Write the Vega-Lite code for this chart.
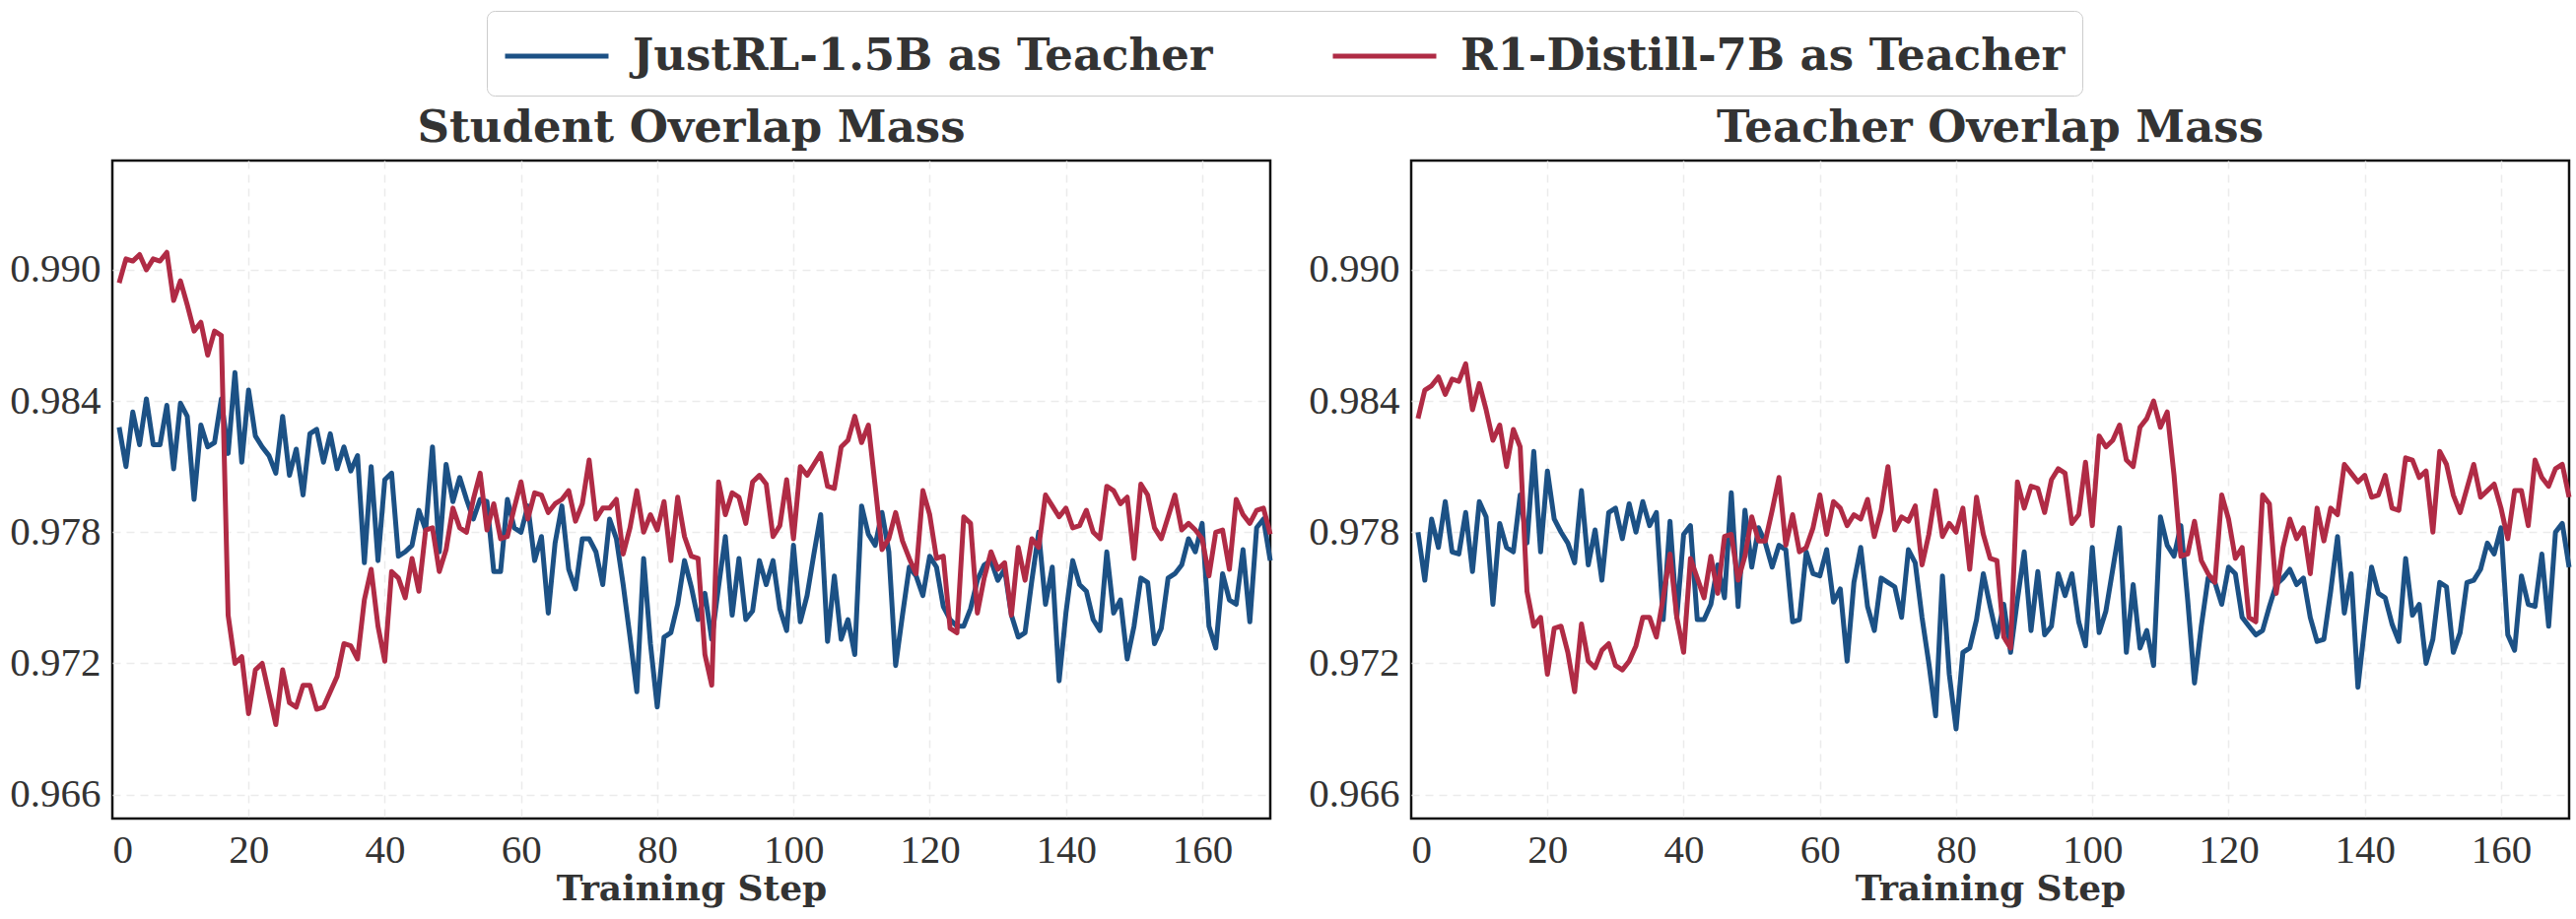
{
  "$schema": "https://vega.github.io/schema/vega-lite/v6.json",
  "padding": {"left": 8, "top": 10, "right": 0, "bottom": 0},
  "background": "white",
  "datasets": {
    "student": [
      {"series": "JustRL-1.5B", "step": 1, "value": 0.9828},
      {"series": "JustRL-1.5B", "step": 2, "value": 0.9810},
      {"series": "JustRL-1.5B", "step": 3, "value": 0.9835},
      {"series": "JustRL-1.5B", "step": 4, "value": 0.9820},
      {"series": "JustRL-1.5B", "step": 5, "value": 0.9841},
      {"series": "JustRL-1.5B", "step": 6, "value": 0.9820},
      {"series": "JustRL-1.5B", "step": 7, "value": 0.9820},
      {"series": "JustRL-1.5B", "step": 8, "value": 0.9838},
      {"series": "JustRL-1.5B", "step": 9, "value": 0.9809},
      {"series": "JustRL-1.5B", "step": 10, "value": 0.9839},
      {"series": "JustRL-1.5B", "step": 11, "value": 0.9833},
      {"series": "JustRL-1.5B", "step": 12, "value": 0.9795},
      {"series": "JustRL-1.5B", "step": 13, "value": 0.9829},
      {"series": "JustRL-1.5B", "step": 14, "value": 0.9819},
      {"series": "JustRL-1.5B", "step": 15, "value": 0.9821},
      {"series": "JustRL-1.5B", "step": 16, "value": 0.9841},
      {"series": "JustRL-1.5B", "step": 17, "value": 0.9816},
      {"series": "JustRL-1.5B", "step": 18, "value": 0.9853},
      {"series": "JustRL-1.5B", "step": 19, "value": 0.9812},
      {"series": "JustRL-1.5B", "step": 20, "value": 0.9845},
      {"series": "JustRL-1.5B", "step": 21, "value": 0.9824},
      {"series": "JustRL-1.5B", "step": 22, "value": 0.9819},
      {"series": "JustRL-1.5B", "step": 23, "value": 0.9815},
      {"series": "JustRL-1.5B", "step": 24, "value": 0.9807},
      {"series": "JustRL-1.5B", "step": 25, "value": 0.9833},
      {"series": "JustRL-1.5B", "step": 26, "value": 0.9806},
      {"series": "JustRL-1.5B", "step": 27, "value": 0.9818},
      {"series": "JustRL-1.5B", "step": 28, "value": 0.9797},
      {"series": "JustRL-1.5B", "step": 29, "value": 0.9825},
      {"series": "JustRL-1.5B", "step": 30, "value": 0.9827},
      {"series": "JustRL-1.5B", "step": 31, "value": 0.9812},
      {"series": "JustRL-1.5B", "step": 32, "value": 0.9825},
      {"series": "JustRL-1.5B", "step": 33, "value": 0.9809},
      {"series": "JustRL-1.5B", "step": 34, "value": 0.9819},
      {"series": "JustRL-1.5B", "step": 35, "value": 0.9808},
      {"series": "JustRL-1.5B", "step": 36, "value": 0.9815},
      {"series": "JustRL-1.5B", "step": 37, "value": 0.9766},
      {"series": "JustRL-1.5B", "step": 38, "value": 0.9810},
      {"series": "JustRL-1.5B", "step": 39, "value": 0.9767},
      {"series": "JustRL-1.5B", "step": 40, "value": 0.9804},
      {"series": "JustRL-1.5B", "step": 41, "value": 0.9807},
      {"series": "JustRL-1.5B", "step": 42, "value": 0.9769},
      {"series": "JustRL-1.5B", "step": 43, "value": 0.9771},
      {"series": "JustRL-1.5B", "step": 44, "value": 0.9774},
      {"series": "JustRL-1.5B", "step": 45, "value": 0.9790},
      {"series": "JustRL-1.5B", "step": 46, "value": 0.9781},
      {"series": "JustRL-1.5B", "step": 47, "value": 0.9819},
      {"series": "JustRL-1.5B", "step": 48, "value": 0.9771},
      {"series": "JustRL-1.5B", "step": 49, "value": 0.9811},
      {"series": "JustRL-1.5B", "step": 50, "value": 0.9794},
      {"series": "JustRL-1.5B", "step": 51, "value": 0.9805},
      {"series": "JustRL-1.5B", "step": 52, "value": 0.9795},
      {"series": "JustRL-1.5B", "step": 53, "value": 0.9786},
      {"series": "JustRL-1.5B", "step": 54, "value": 0.9795},
      {"series": "JustRL-1.5B", "step": 55, "value": 0.9794},
      {"series": "JustRL-1.5B", "step": 56, "value": 0.9762},
      {"series": "JustRL-1.5B", "step": 57, "value": 0.9762},
      {"series": "JustRL-1.5B", "step": 58, "value": 0.9795},
      {"series": "JustRL-1.5B", "step": 59, "value": 0.9782},
      {"series": "JustRL-1.5B", "step": 60, "value": 0.9780},
      {"series": "JustRL-1.5B", "step": 61, "value": 0.9792},
      {"series": "JustRL-1.5B", "step": 62, "value": 0.9767},
      {"series": "JustRL-1.5B", "step": 63, "value": 0.9778},
      {"series": "JustRL-1.5B", "step": 64, "value": 0.9743},
      {"series": "JustRL-1.5B", "step": 65, "value": 0.9775},
      {"series": "JustRL-1.5B", "step": 66, "value": 0.9792},
      {"series": "JustRL-1.5B", "step": 67, "value": 0.9763},
      {"series": "JustRL-1.5B", "step": 68, "value": 0.9754},
      {"series": "JustRL-1.5B", "step": 69, "value": 0.9777},
      {"series": "JustRL-1.5B", "step": 70, "value": 0.9777},
      {"series": "JustRL-1.5B", "step": 71, "value": 0.9771},
      {"series": "JustRL-1.5B", "step": 72, "value": 0.9756},
      {"series": "JustRL-1.5B", "step": 73, "value": 0.9786},
      {"series": "JustRL-1.5B", "step": 74, "value": 0.9777},
      {"series": "JustRL-1.5B", "step": 75, "value": 0.9756},
      {"series": "JustRL-1.5B", "step": 76, "value": 0.9732},
      {"series": "JustRL-1.5B", "step": 77, "value": 0.9707},
      {"series": "JustRL-1.5B", "step": 78, "value": 0.9768},
      {"series": "JustRL-1.5B", "step": 79, "value": 0.9729},
      {"series": "JustRL-1.5B", "step": 80, "value": 0.9700},
      {"series": "JustRL-1.5B", "step": 81, "value": 0.9732},
      {"series": "JustRL-1.5B", "step": 82, "value": 0.9734},
      {"series": "JustRL-1.5B", "step": 83, "value": 0.9747},
      {"series": "JustRL-1.5B", "step": 84, "value": 0.9767},
      {"series": "JustRL-1.5B", "step": 85, "value": 0.9755},
      {"series": "JustRL-1.5B", "step": 86, "value": 0.9740},
      {"series": "JustRL-1.5B", "step": 87, "value": 0.9752},
      {"series": "JustRL-1.5B", "step": 88, "value": 0.9731},
      {"series": "JustRL-1.5B", "step": 89, "value": 0.9755},
      {"series": "JustRL-1.5B", "step": 90, "value": 0.9778},
      {"series": "JustRL-1.5B", "step": 91, "value": 0.9742},
      {"series": "JustRL-1.5B", "step": 92, "value": 0.9768},
      {"series": "JustRL-1.5B", "step": 93, "value": 0.9740},
      {"series": "JustRL-1.5B", "step": 94, "value": 0.9744},
      {"series": "JustRL-1.5B", "step": 95, "value": 0.9767},
      {"series": "JustRL-1.5B", "step": 96, "value": 0.9756},
      {"series": "JustRL-1.5B", "step": 97, "value": 0.9767},
      {"series": "JustRL-1.5B", "step": 98, "value": 0.9745},
      {"series": "JustRL-1.5B", "step": 99, "value": 0.9735},
      {"series": "JustRL-1.5B", "step": 100, "value": 0.9774},
      {"series": "JustRL-1.5B", "step": 101, "value": 0.9739},
      {"series": "JustRL-1.5B", "step": 102, "value": 0.9751},
      {"series": "JustRL-1.5B", "step": 103, "value": 0.9770},
      {"series": "JustRL-1.5B", "step": 104, "value": 0.9788},
      {"series": "JustRL-1.5B", "step": 105, "value": 0.9730},
      {"series": "JustRL-1.5B", "step": 106, "value": 0.9760},
      {"series": "JustRL-1.5B", "step": 107, "value": 0.9731},
      {"series": "JustRL-1.5B", "step": 108, "value": 0.9740},
      {"series": "JustRL-1.5B", "step": 109, "value": 0.9724},
      {"series": "JustRL-1.5B", "step": 110, "value": 0.9792},
      {"series": "JustRL-1.5B", "step": 111, "value": 0.9779},
      {"series": "JustRL-1.5B", "step": 112, "value": 0.9774},
      {"series": "JustRL-1.5B", "step": 113, "value": 0.9789},
      {"series": "JustRL-1.5B", "step": 114, "value": 0.9771},
      {"series": "JustRL-1.5B", "step": 115, "value": 0.9719},
      {"series": "JustRL-1.5B", "step": 116, "value": 0.9742},
      {"series": "JustRL-1.5B", "step": 117, "value": 0.9764},
      {"series": "JustRL-1.5B", "step": 118, "value": 0.9760},
      {"series": "JustRL-1.5B", "step": 119, "value": 0.9751},
      {"series": "JustRL-1.5B", "step": 120, "value": 0.9769},
      {"series": "JustRL-1.5B", "step": 121, "value": 0.9764},
      {"series": "JustRL-1.5B", "step": 122, "value": 0.9746},
      {"series": "JustRL-1.5B", "step": 123, "value": 0.9740},
      {"series": "JustRL-1.5B", "step": 124, "value": 0.9737},
      {"series": "JustRL-1.5B", "step": 125, "value": 0.9737},
      {"series": "JustRL-1.5B", "step": 126, "value": 0.9745},
      {"series": "JustRL-1.5B", "step": 127, "value": 0.9758},
      {"series": "JustRL-1.5B", "step": 128, "value": 0.9765},
      {"series": "JustRL-1.5B", "step": 129, "value": 0.9767},
      {"series": "JustRL-1.5B", "step": 130, "value": 0.9758},
      {"series": "JustRL-1.5B", "step": 131, "value": 0.9763},
      {"series": "JustRL-1.5B", "step": 132, "value": 0.9742},
      {"series": "JustRL-1.5B", "step": 133, "value": 0.9732},
      {"series": "JustRL-1.5B", "step": 134, "value": 0.9734},
      {"series": "JustRL-1.5B", "step": 135, "value": 0.9758},
      {"series": "JustRL-1.5B", "step": 136, "value": 0.9780},
      {"series": "JustRL-1.5B", "step": 137, "value": 0.9747},
      {"series": "JustRL-1.5B", "step": 138, "value": 0.9764},
      {"series": "JustRL-1.5B", "step": 139, "value": 0.9712},
      {"series": "JustRL-1.5B", "step": 140, "value": 0.9743},
      {"series": "JustRL-1.5B", "step": 141, "value": 0.9767},
      {"series": "JustRL-1.5B", "step": 142, "value": 0.9756},
      {"series": "JustRL-1.5B", "step": 143, "value": 0.9753},
      {"series": "JustRL-1.5B", "step": 144, "value": 0.9740},
      {"series": "JustRL-1.5B", "step": 145, "value": 0.9735},
      {"series": "JustRL-1.5B", "step": 146, "value": 0.9771},
      {"series": "JustRL-1.5B", "step": 147, "value": 0.9743},
      {"series": "JustRL-1.5B", "step": 148, "value": 0.9749},
      {"series": "JustRL-1.5B", "step": 149, "value": 0.9722},
      {"series": "JustRL-1.5B", "step": 150, "value": 0.9737},
      {"series": "JustRL-1.5B", "step": 151, "value": 0.9759},
      {"series": "JustRL-1.5B", "step": 152, "value": 0.9757},
      {"series": "JustRL-1.5B", "step": 153, "value": 0.9729},
      {"series": "JustRL-1.5B", "step": 154, "value": 0.9736},
      {"series": "JustRL-1.5B", "step": 155, "value": 0.9759},
      {"series": "JustRL-1.5B", "step": 156, "value": 0.9761},
      {"series": "JustRL-1.5B", "step": 157, "value": 0.9765},
      {"series": "JustRL-1.5B", "step": 158, "value": 0.9777},
      {"series": "JustRL-1.5B", "step": 159, "value": 0.9771},
      {"series": "JustRL-1.5B", "step": 160, "value": 0.9784},
      {"series": "JustRL-1.5B", "step": 161, "value": 0.9737},
      {"series": "JustRL-1.5B", "step": 162, "value": 0.9727},
      {"series": "JustRL-1.5B", "step": 163, "value": 0.9761},
      {"series": "JustRL-1.5B", "step": 164, "value": 0.9749},
      {"series": "JustRL-1.5B", "step": 165, "value": 0.9747},
      {"series": "JustRL-1.5B", "step": 166, "value": 0.9772},
      {"series": "JustRL-1.5B", "step": 167, "value": 0.9739},
      {"series": "JustRL-1.5B", "step": 168, "value": 0.9782},
      {"series": "JustRL-1.5B", "step": 169, "value": 0.9786},
      {"series": "JustRL-1.5B", "step": 170, "value": 0.9767},
      {"series": "R1-Distill-7B", "step": 1, "value": 0.9894},
      {"series": "R1-Distill-7B", "step": 2, "value": 0.9905},
      {"series": "R1-Distill-7B", "step": 3, "value": 0.9904},
      {"series": "R1-Distill-7B", "step": 4, "value": 0.9907},
      {"series": "R1-Distill-7B", "step": 5, "value": 0.9900},
      {"series": "R1-Distill-7B", "step": 6, "value": 0.9905},
      {"series": "R1-Distill-7B", "step": 7, "value": 0.9904},
      {"series": "R1-Distill-7B", "step": 8, "value": 0.9908},
      {"series": "R1-Distill-7B", "step": 9, "value": 0.9886},
      {"series": "R1-Distill-7B", "step": 10, "value": 0.9895},
      {"series": "R1-Distill-7B", "step": 11, "value": 0.9884},
      {"series": "R1-Distill-7B", "step": 12, "value": 0.9872},
      {"series": "R1-Distill-7B", "step": 13, "value": 0.9876},
      {"series": "R1-Distill-7B", "step": 14, "value": 0.9861},
      {"series": "R1-Distill-7B", "step": 15, "value": 0.9872},
      {"series": "R1-Distill-7B", "step": 16, "value": 0.9870},
      {"series": "R1-Distill-7B", "step": 17, "value": 0.9742},
      {"series": "R1-Distill-7B", "step": 18, "value": 0.9720},
      {"series": "R1-Distill-7B", "step": 19, "value": 0.9723},
      {"series": "R1-Distill-7B", "step": 20, "value": 0.9697},
      {"series": "R1-Distill-7B", "step": 21, "value": 0.9717},
      {"series": "R1-Distill-7B", "step": 22, "value": 0.9720},
      {"series": "R1-Distill-7B", "step": 23, "value": 0.9706},
      {"series": "R1-Distill-7B", "step": 24, "value": 0.9692},
      {"series": "R1-Distill-7B", "step": 25, "value": 0.9717},
      {"series": "R1-Distill-7B", "step": 26, "value": 0.9702},
      {"series": "R1-Distill-7B", "step": 27, "value": 0.9700},
      {"series": "R1-Distill-7B", "step": 28, "value": 0.9710},
      {"series": "R1-Distill-7B", "step": 29, "value": 0.9710},
      {"series": "R1-Distill-7B", "step": 30, "value": 0.9699},
      {"series": "R1-Distill-7B", "step": 31, "value": 0.9700},
      {"series": "R1-Distill-7B", "step": 32, "value": 0.9707},
      {"series": "R1-Distill-7B", "step": 33, "value": 0.9714},
      {"series": "R1-Distill-7B", "step": 34, "value": 0.9729},
      {"series": "R1-Distill-7B", "step": 35, "value": 0.9728},
      {"series": "R1-Distill-7B", "step": 36, "value": 0.9722},
      {"series": "R1-Distill-7B", "step": 37, "value": 0.9749},
      {"series": "R1-Distill-7B", "step": 38, "value": 0.9763},
      {"series": "R1-Distill-7B", "step": 39, "value": 0.9737},
      {"series": "R1-Distill-7B", "step": 40, "value": 0.9721},
      {"series": "R1-Distill-7B", "step": 41, "value": 0.9762},
      {"series": "R1-Distill-7B", "step": 42, "value": 0.9759},
      {"series": "R1-Distill-7B", "step": 43, "value": 0.9750},
      {"series": "R1-Distill-7B", "step": 44, "value": 0.9768},
      {"series": "R1-Distill-7B", "step": 45, "value": 0.9753},
      {"series": "R1-Distill-7B", "step": 46, "value": 0.9781},
      {"series": "R1-Distill-7B", "step": 47, "value": 0.9782},
      {"series": "R1-Distill-7B", "step": 48, "value": 0.9762},
      {"series": "R1-Distill-7B", "step": 49, "value": 0.9772},
      {"series": "R1-Distill-7B", "step": 50, "value": 0.9791},
      {"series": "R1-Distill-7B", "step": 51, "value": 0.9782},
      {"series": "R1-Distill-7B", "step": 52, "value": 0.9780},
      {"series": "R1-Distill-7B", "step": 53, "value": 0.9795},
      {"series": "R1-Distill-7B", "step": 54, "value": 0.9807},
      {"series": "R1-Distill-7B", "step": 55, "value": 0.9781},
      {"series": "R1-Distill-7B", "step": 56, "value": 0.9793},
      {"series": "R1-Distill-7B", "step": 57, "value": 0.9777},
      {"series": "R1-Distill-7B", "step": 58, "value": 0.9778},
      {"series": "R1-Distill-7B", "step": 59, "value": 0.9791},
      {"series": "R1-Distill-7B", "step": 60, "value": 0.9803},
      {"series": "R1-Distill-7B", "step": 61, "value": 0.9786},
      {"series": "R1-Distill-7B", "step": 62, "value": 0.9798},
      {"series": "R1-Distill-7B", "step": 63, "value": 0.9797},
      {"series": "R1-Distill-7B", "step": 64, "value": 0.9789},
      {"series": "R1-Distill-7B", "step": 65, "value": 0.9793},
      {"series": "R1-Distill-7B", "step": 66, "value": 0.9795},
      {"series": "R1-Distill-7B", "step": 67, "value": 0.9799},
      {"series": "R1-Distill-7B", "step": 68, "value": 0.9785},
      {"series": "R1-Distill-7B", "step": 69, "value": 0.9793},
      {"series": "R1-Distill-7B", "step": 70, "value": 0.9813},
      {"series": "R1-Distill-7B", "step": 71, "value": 0.9786},
      {"series": "R1-Distill-7B", "step": 72, "value": 0.9791},
      {"series": "R1-Distill-7B", "step": 73, "value": 0.9791},
      {"series": "R1-Distill-7B", "step": 74, "value": 0.9795},
      {"series": "R1-Distill-7B", "step": 75, "value": 0.9770},
      {"series": "R1-Distill-7B", "step": 76, "value": 0.9782},
      {"series": "R1-Distill-7B", "step": 77, "value": 0.9799},
      {"series": "R1-Distill-7B", "step": 78, "value": 0.9780},
      {"series": "R1-Distill-7B", "step": 79, "value": 0.9788},
      {"series": "R1-Distill-7B", "step": 80, "value": 0.9781},
      {"series": "R1-Distill-7B", "step": 81, "value": 0.9794},
      {"series": "R1-Distill-7B", "step": 82, "value": 0.9767},
      {"series": "R1-Distill-7B", "step": 83, "value": 0.9796},
      {"series": "R1-Distill-7B", "step": 84, "value": 0.9778},
      {"series": "R1-Distill-7B", "step": 85, "value": 0.9769},
      {"series": "R1-Distill-7B", "step": 86, "value": 0.9768},
      {"series": "R1-Distill-7B", "step": 87, "value": 0.9724},
      {"series": "R1-Distill-7B", "step": 88, "value": 0.9710},
      {"series": "R1-Distill-7B", "step": 89, "value": 0.9803},
      {"series": "R1-Distill-7B", "step": 90, "value": 0.9788},
      {"series": "R1-Distill-7B", "step": 91, "value": 0.9798},
      {"series": "R1-Distill-7B", "step": 92, "value": 0.9796},
      {"series": "R1-Distill-7B", "step": 93, "value": 0.9784},
      {"series": "R1-Distill-7B", "step": 94, "value": 0.9803},
      {"series": "R1-Distill-7B", "step": 95, "value": 0.9806},
      {"series": "R1-Distill-7B", "step": 96, "value": 0.9802},
      {"series": "R1-Distill-7B", "step": 97, "value": 0.9778},
      {"series": "R1-Distill-7B", "step": 98, "value": 0.9783},
      {"series": "R1-Distill-7B", "step": 99, "value": 0.9804},
      {"series": "R1-Distill-7B", "step": 100, "value": 0.9777},
      {"series": "R1-Distill-7B", "step": 101, "value": 0.9810},
      {"series": "R1-Distill-7B", "step": 102, "value": 0.9806},
      {"series": "R1-Distill-7B", "step": 103, "value": 0.9811},
      {"series": "R1-Distill-7B", "step": 104, "value": 0.9816},
      {"series": "R1-Distill-7B", "step": 105, "value": 0.9801},
      {"series": "R1-Distill-7B", "step": 106, "value": 0.9800},
      {"series": "R1-Distill-7B", "step": 107, "value": 0.9819},
      {"series": "R1-Distill-7B", "step": 108, "value": 0.9822},
      {"series": "R1-Distill-7B", "step": 109, "value": 0.9833},
      {"series": "R1-Distill-7B", "step": 110, "value": 0.9821},
      {"series": "R1-Distill-7B", "step": 111, "value": 0.9829},
      {"series": "R1-Distill-7B", "step": 112, "value": 0.9801},
      {"series": "R1-Distill-7B", "step": 113, "value": 0.9772},
      {"series": "R1-Distill-7B", "step": 114, "value": 0.9777},
      {"series": "R1-Distill-7B", "step": 115, "value": 0.9789},
      {"series": "R1-Distill-7B", "step": 116, "value": 0.9776},
      {"series": "R1-Distill-7B", "step": 117, "value": 0.9768},
      {"series": "R1-Distill-7B", "step": 118, "value": 0.9761},
      {"series": "R1-Distill-7B", "step": 119, "value": 0.9799},
      {"series": "R1-Distill-7B", "step": 120, "value": 0.9788},
      {"series": "R1-Distill-7B", "step": 121, "value": 0.9768},
      {"series": "R1-Distill-7B", "step": 122, "value": 0.9769},
      {"series": "R1-Distill-7B", "step": 123, "value": 0.9736},
      {"series": "R1-Distill-7B", "step": 124, "value": 0.9734},
      {"series": "R1-Distill-7B", "step": 125, "value": 0.9787},
      {"series": "R1-Distill-7B", "step": 126, "value": 0.9784},
      {"series": "R1-Distill-7B", "step": 127, "value": 0.9743},
      {"series": "R1-Distill-7B", "step": 128, "value": 0.9759},
      {"series": "R1-Distill-7B", "step": 129, "value": 0.9771},
      {"series": "R1-Distill-7B", "step": 130, "value": 0.9763},
      {"series": "R1-Distill-7B", "step": 131, "value": 0.9766},
      {"series": "R1-Distill-7B", "step": 132, "value": 0.9742},
      {"series": "R1-Distill-7B", "step": 133, "value": 0.9773},
      {"series": "R1-Distill-7B", "step": 134, "value": 0.9758},
      {"series": "R1-Distill-7B", "step": 135, "value": 0.9777},
      {"series": "R1-Distill-7B", "step": 136, "value": 0.9773},
      {"series": "R1-Distill-7B", "step": 137, "value": 0.9797},
      {"series": "R1-Distill-7B", "step": 138, "value": 0.9792},
      {"series": "R1-Distill-7B", "step": 139, "value": 0.9787},
      {"series": "R1-Distill-7B", "step": 140, "value": 0.9791},
      {"series": "R1-Distill-7B", "step": 141, "value": 0.9782},
      {"series": "R1-Distill-7B", "step": 142, "value": 0.9783},
      {"series": "R1-Distill-7B", "step": 143, "value": 0.9790},
      {"series": "R1-Distill-7B", "step": 144, "value": 0.9780},
      {"series": "R1-Distill-7B", "step": 145, "value": 0.9777},
      {"series": "R1-Distill-7B", "step": 146, "value": 0.9801},
      {"series": "R1-Distill-7B", "step": 147, "value": 0.9799},
      {"series": "R1-Distill-7B", "step": 148, "value": 0.9793},
      {"series": "R1-Distill-7B", "step": 149, "value": 0.9796},
      {"series": "R1-Distill-7B", "step": 150, "value": 0.9768},
      {"series": "R1-Distill-7B", "step": 151, "value": 0.9802},
      {"series": "R1-Distill-7B", "step": 152, "value": 0.9797},
      {"series": "R1-Distill-7B", "step": 153, "value": 0.9782},
      {"series": "R1-Distill-7B", "step": 154, "value": 0.9777},
      {"series": "R1-Distill-7B", "step": 155, "value": 0.9787},
      {"series": "R1-Distill-7B", "step": 156, "value": 0.9797},
      {"series": "R1-Distill-7B", "step": 157, "value": 0.9781},
      {"series": "R1-Distill-7B", "step": 158, "value": 0.9784},
      {"series": "R1-Distill-7B", "step": 159, "value": 0.9781},
      {"series": "R1-Distill-7B", "step": 160, "value": 0.9777},
      {"series": "R1-Distill-7B", "step": 161, "value": 0.9760},
      {"series": "R1-Distill-7B", "step": 162, "value": 0.9780},
      {"series": "R1-Distill-7B", "step": 163, "value": 0.9781},
      {"series": "R1-Distill-7B", "step": 164, "value": 0.9763},
      {"series": "R1-Distill-7B", "step": 165, "value": 0.9795},
      {"series": "R1-Distill-7B", "step": 166, "value": 0.9788},
      {"series": "R1-Distill-7B", "step": 167, "value": 0.9784},
      {"series": "R1-Distill-7B", "step": 168, "value": 0.9790},
      {"series": "R1-Distill-7B", "step": 169, "value": 0.9791},
      {"series": "R1-Distill-7B", "step": 170, "value": 0.9779}
    ],
    "teacher": [
      {"series": "JustRL-1.5B", "step": 1, "value": 0.9780},
      {"series": "JustRL-1.5B", "step": 2, "value": 0.9758},
      {"series": "JustRL-1.5B", "step": 3, "value": 0.9786},
      {"series": "JustRL-1.5B", "step": 4, "value": 0.9773},
      {"series": "JustRL-1.5B", "step": 5, "value": 0.9794},
      {"series": "JustRL-1.5B", "step": 6, "value": 0.9771},
      {"series": "JustRL-1.5B", "step": 7, "value": 0.9770},
      {"series": "JustRL-1.5B", "step": 8, "value": 0.9789},
      {"series": "JustRL-1.5B", "step": 9, "value": 0.9762},
      {"series": "JustRL-1.5B", "step": 10, "value": 0.9794},
      {"series": "JustRL-1.5B", "step": 11, "value": 0.9787},
      {"series": "JustRL-1.5B", "step": 12, "value": 0.9747},
      {"series": "JustRL-1.5B", "step": 13, "value": 0.9784},
      {"series": "JustRL-1.5B", "step": 14, "value": 0.9773},
      {"series": "JustRL-1.5B", "step": 15, "value": 0.9771},
      {"series": "JustRL-1.5B", "step": 16, "value": 0.9797},
      {"series": "JustRL-1.5B", "step": 17, "value": 0.9775},
      {"series": "JustRL-1.5B", "step": 18, "value": 0.9817},
      {"series": "JustRL-1.5B", "step": 19, "value": 0.9771},
      {"series": "JustRL-1.5B", "step": 20, "value": 0.9808},
      {"series": "JustRL-1.5B", "step": 21, "value": 0.9786},
      {"series": "JustRL-1.5B", "step": 22, "value": 0.9780},
      {"series": "JustRL-1.5B", "step": 23, "value": 0.9775},
      {"series": "JustRL-1.5B", "step": 24, "value": 0.9766},
      {"series": "JustRL-1.5B", "step": 25, "value": 0.9799},
      {"series": "JustRL-1.5B", "step": 26, "value": 0.9765},
      {"series": "JustRL-1.5B", "step": 27, "value": 0.9781},
      {"series": "JustRL-1.5B", "step": 28, "value": 0.9758},
      {"series": "JustRL-1.5B", "step": 29, "value": 0.9789},
      {"series": "JustRL-1.5B", "step": 30, "value": 0.9791},
      {"series": "JustRL-1.5B", "step": 31, "value": 0.9777},
      {"series": "JustRL-1.5B", "step": 32, "value": 0.9793},
      {"series": "JustRL-1.5B", "step": 33, "value": 0.9780},
      {"series": "JustRL-1.5B", "step": 34, "value": 0.9794},
      {"series": "JustRL-1.5B", "step": 35, "value": 0.9783},
      {"series": "JustRL-1.5B", "step": 36, "value": 0.9789},
      {"series": "JustRL-1.5B", "step": 37, "value": 0.9740},
      {"series": "JustRL-1.5B", "step": 38, "value": 0.9785},
      {"series": "JustRL-1.5B", "step": 39, "value": 0.9741},
      {"series": "JustRL-1.5B", "step": 40, "value": 0.9779},
      {"series": "JustRL-1.5B", "step": 41, "value": 0.9783},
      {"series": "JustRL-1.5B", "step": 42, "value": 0.9740},
      {"series": "JustRL-1.5B", "step": 43, "value": 0.9740},
      {"series": "JustRL-1.5B", "step": 44, "value": 0.9747},
      {"series": "JustRL-1.5B", "step": 45, "value": 0.9765},
      {"series": "JustRL-1.5B", "step": 46, "value": 0.9750},
      {"series": "JustRL-1.5B", "step": 47, "value": 0.9798},
      {"series": "JustRL-1.5B", "step": 48, "value": 0.9746},
      {"series": "JustRL-1.5B", "step": 49, "value": 0.9790},
      {"series": "JustRL-1.5B", "step": 50, "value": 0.9764},
      {"series": "JustRL-1.5B", "step": 51, "value": 0.9782},
      {"series": "JustRL-1.5B", "step": 52, "value": 0.9775},
      {"series": "JustRL-1.5B", "step": 53, "value": 0.9764},
      {"series": "JustRL-1.5B", "step": 54, "value": 0.9774},
      {"series": "JustRL-1.5B", "step": 55, "value": 0.9772},
      {"series": "JustRL-1.5B", "step": 56, "value": 0.9739},
      {"series": "JustRL-1.5B", "step": 57, "value": 0.9740},
      {"series": "JustRL-1.5B", "step": 58, "value": 0.9771},
      {"series": "JustRL-1.5B", "step": 59, "value": 0.9761},
      {"series": "JustRL-1.5B", "step": 60, "value": 0.9760},
      {"series": "JustRL-1.5B", "step": 61, "value": 0.9772},
      {"series": "JustRL-1.5B", "step": 62, "value": 0.9748},
      {"series": "JustRL-1.5B", "step": 63, "value": 0.9754},
      {"series": "JustRL-1.5B", "step": 64, "value": 0.9721},
      {"series": "JustRL-1.5B", "step": 65, "value": 0.9757},
      {"series": "JustRL-1.5B", "step": 66, "value": 0.9773},
      {"series": "JustRL-1.5B", "step": 67, "value": 0.9746},
      {"series": "JustRL-1.5B", "step": 68, "value": 0.9735},
      {"series": "JustRL-1.5B", "step": 69, "value": 0.9759},
      {"series": "JustRL-1.5B", "step": 70, "value": 0.9757},
      {"series": "JustRL-1.5B", "step": 71, "value": 0.9755},
      {"series": "JustRL-1.5B", "step": 72, "value": 0.9741},
      {"series": "JustRL-1.5B", "step": 73, "value": 0.9772},
      {"series": "JustRL-1.5B", "step": 74, "value": 0.9766},
      {"series": "JustRL-1.5B", "step": 75, "value": 0.9741},
      {"series": "JustRL-1.5B", "step": 76, "value": 0.9720},
      {"series": "JustRL-1.5B", "step": 77, "value": 0.9696},
      {"series": "JustRL-1.5B", "step": 78, "value": 0.9760},
      {"series": "JustRL-1.5B", "step": 79, "value": 0.9715},
      {"series": "JustRL-1.5B", "step": 80, "value": 0.9690},
      {"series": "JustRL-1.5B", "step": 81, "value": 0.9725},
      {"series": "JustRL-1.5B", "step": 82, "value": 0.9727},
      {"series": "JustRL-1.5B", "step": 83, "value": 0.9740},
      {"series": "JustRL-1.5B", "step": 84, "value": 0.9761},
      {"series": "JustRL-1.5B", "step": 85, "value": 0.9746},
      {"series": "JustRL-1.5B", "step": 86, "value": 0.9732},
      {"series": "JustRL-1.5B", "step": 87, "value": 0.9747},
      {"series": "JustRL-1.5B", "step": 88, "value": 0.9725},
      {"series": "JustRL-1.5B", "step": 89, "value": 0.9749},
      {"series": "JustRL-1.5B", "step": 90, "value": 0.9771},
      {"series": "JustRL-1.5B", "step": 91, "value": 0.9735},
      {"series": "JustRL-1.5B", "step": 92, "value": 0.9762},
      {"series": "JustRL-1.5B", "step": 93, "value": 0.9733},
      {"series": "JustRL-1.5B", "step": 94, "value": 0.9737},
      {"series": "JustRL-1.5B", "step": 95, "value": 0.9761},
      {"series": "JustRL-1.5B", "step": 96, "value": 0.9751},
      {"series": "JustRL-1.5B", "step": 97, "value": 0.9761},
      {"series": "JustRL-1.5B", "step": 98, "value": 0.9739},
      {"series": "JustRL-1.5B", "step": 99, "value": 0.9728},
      {"series": "JustRL-1.5B", "step": 100, "value": 0.9773},
      {"series": "JustRL-1.5B", "step": 101, "value": 0.9734},
      {"series": "JustRL-1.5B", "step": 102, "value": 0.9744},
      {"series": "JustRL-1.5B", "step": 103, "value": 0.9763},
      {"series": "JustRL-1.5B", "step": 104, "value": 0.9782},
      {"series": "JustRL-1.5B", "step": 105, "value": 0.9725},
      {"series": "JustRL-1.5B", "step": 106, "value": 0.9756},
      {"series": "JustRL-1.5B", "step": 107, "value": 0.9727},
      {"series": "JustRL-1.5B", "step": 108, "value": 0.9735},
      {"series": "JustRL-1.5B", "step": 109, "value": 0.9719},
      {"series": "JustRL-1.5B", "step": 110, "value": 0.9787},
      {"series": "JustRL-1.5B", "step": 111, "value": 0.9774},
      {"series": "JustRL-1.5B", "step": 112, "value": 0.9769},
      {"series": "JustRL-1.5B", "step": 113, "value": 0.9783},
      {"series": "JustRL-1.5B", "step": 114, "value": 0.9749},
      {"series": "JustRL-1.5B", "step": 115, "value": 0.9711},
      {"series": "JustRL-1.5B", "step": 116, "value": 0.9737},
      {"series": "JustRL-1.5B", "step": 117, "value": 0.9759},
      {"series": "JustRL-1.5B", "step": 118, "value": 0.9757},
      {"series": "JustRL-1.5B", "step": 119, "value": 0.9747},
      {"series": "JustRL-1.5B", "step": 120, "value": 0.9764},
      {"series": "JustRL-1.5B", "step": 121, "value": 0.9761},
      {"series": "JustRL-1.5B", "step": 122, "value": 0.9741},
      {"series": "JustRL-1.5B", "step": 123, "value": 0.9737},
      {"series": "JustRL-1.5B", "step": 124, "value": 0.9733},
      {"series": "JustRL-1.5B", "step": 125, "value": 0.9735},
      {"series": "JustRL-1.5B", "step": 126, "value": 0.9746},
      {"series": "JustRL-1.5B", "step": 127, "value": 0.9756},
      {"series": "JustRL-1.5B", "step": 128, "value": 0.9759},
      {"series": "JustRL-1.5B", "step": 129, "value": 0.9763},
      {"series": "JustRL-1.5B", "step": 130, "value": 0.9756},
      {"series": "JustRL-1.5B", "step": 131, "value": 0.9759},
      {"series": "JustRL-1.5B", "step": 132, "value": 0.9741},
      {"series": "JustRL-1.5B", "step": 133, "value": 0.9730},
      {"series": "JustRL-1.5B", "step": 134, "value": 0.9731},
      {"series": "JustRL-1.5B", "step": 135, "value": 0.9753},
      {"series": "JustRL-1.5B", "step": 136, "value": 0.9778},
      {"series": "JustRL-1.5B", "step": 137, "value": 0.9743},
      {"series": "JustRL-1.5B", "step": 138, "value": 0.9761},
      {"series": "JustRL-1.5B", "step": 139, "value": 0.9709},
      {"series": "JustRL-1.5B", "step": 140, "value": 0.9737},
      {"series": "JustRL-1.5B", "step": 141, "value": 0.9764},
      {"series": "JustRL-1.5B", "step": 142, "value": 0.9752},
      {"series": "JustRL-1.5B", "step": 143, "value": 0.9750},
      {"series": "JustRL-1.5B", "step": 144, "value": 0.9738},
      {"series": "JustRL-1.5B", "step": 145, "value": 0.9730},
      {"series": "JustRL-1.5B", "step": 146, "value": 0.9768},
      {"series": "JustRL-1.5B", "step": 147, "value": 0.9742},
      {"series": "JustRL-1.5B", "step": 148, "value": 0.9747},
      {"series": "JustRL-1.5B", "step": 149, "value": 0.9720},
      {"series": "JustRL-1.5B", "step": 150, "value": 0.9731},
      {"series": "JustRL-1.5B", "step": 151, "value": 0.9757},
      {"series": "JustRL-1.5B", "step": 152, "value": 0.9755},
      {"series": "JustRL-1.5B", "step": 153, "value": 0.9725},
      {"series": "JustRL-1.5B", "step": 154, "value": 0.9734},
      {"series": "JustRL-1.5B", "step": 155, "value": 0.9757},
      {"series": "JustRL-1.5B", "step": 156, "value": 0.9758},
      {"series": "JustRL-1.5B", "step": 157, "value": 0.9763},
      {"series": "JustRL-1.5B", "step": 158, "value": 0.9775},
      {"series": "JustRL-1.5B", "step": 159, "value": 0.9770},
      {"series": "JustRL-1.5B", "step": 160, "value": 0.9782},
      {"series": "JustRL-1.5B", "step": 161, "value": 0.9733},
      {"series": "JustRL-1.5B", "step": 162, "value": 0.9726},
      {"series": "JustRL-1.5B", "step": 163, "value": 0.9760},
      {"series": "JustRL-1.5B", "step": 164, "value": 0.9747},
      {"series": "JustRL-1.5B", "step": 165, "value": 0.9746},
      {"series": "JustRL-1.5B", "step": 166, "value": 0.9770},
      {"series": "JustRL-1.5B", "step": 167, "value": 0.9737},
      {"series": "JustRL-1.5B", "step": 168, "value": 0.9780},
      {"series": "JustRL-1.5B", "step": 169, "value": 0.9784},
      {"series": "JustRL-1.5B", "step": 170, "value": 0.9764},
      {"series": "R1-Distill-7B", "step": 1, "value": 0.9832},
      {"series": "R1-Distill-7B", "step": 2, "value": 0.9845},
      {"series": "R1-Distill-7B", "step": 3, "value": 0.9847},
      {"series": "R1-Distill-7B", "step": 4, "value": 0.9851},
      {"series": "R1-Distill-7B", "step": 5, "value": 0.9843},
      {"series": "R1-Distill-7B", "step": 6, "value": 0.9850},
      {"series": "R1-Distill-7B", "step": 7, "value": 0.9849},
      {"series": "R1-Distill-7B", "step": 8, "value": 0.9857},
      {"series": "R1-Distill-7B", "step": 9, "value": 0.9836},
      {"series": "R1-Distill-7B", "step": 10, "value": 0.9848},
      {"series": "R1-Distill-7B", "step": 11, "value": 0.9836},
      {"series": "R1-Distill-7B", "step": 12, "value": 0.9822},
      {"series": "R1-Distill-7B", "step": 13, "value": 0.9829},
      {"series": "R1-Distill-7B", "step": 14, "value": 0.9810},
      {"series": "R1-Distill-7B", "step": 15, "value": 0.9827},
      {"series": "R1-Distill-7B", "step": 16, "value": 0.9819},
      {"series": "R1-Distill-7B", "step": 17, "value": 0.9753},
      {"series": "R1-Distill-7B", "step": 18, "value": 0.9737},
      {"series": "R1-Distill-7B", "step": 19, "value": 0.9741},
      {"series": "R1-Distill-7B", "step": 20, "value": 0.9715},
      {"series": "R1-Distill-7B", "step": 21, "value": 0.9736},
      {"series": "R1-Distill-7B", "step": 22, "value": 0.9737},
      {"series": "R1-Distill-7B", "step": 23, "value": 0.9725},
      {"series": "R1-Distill-7B", "step": 24, "value": 0.9707},
      {"series": "R1-Distill-7B", "step": 25, "value": 0.9738},
      {"series": "R1-Distill-7B", "step": 26, "value": 0.9721},
      {"series": "R1-Distill-7B", "step": 27, "value": 0.9718},
      {"series": "R1-Distill-7B", "step": 28, "value": 0.9726},
      {"series": "R1-Distill-7B", "step": 29, "value": 0.9729},
      {"series": "R1-Distill-7B", "step": 30, "value": 0.9719},
      {"series": "R1-Distill-7B", "step": 31, "value": 0.9717},
      {"series": "R1-Distill-7B", "step": 32, "value": 0.9721},
      {"series": "R1-Distill-7B", "step": 33, "value": 0.9728},
      {"series": "R1-Distill-7B", "step": 34, "value": 0.9741},
      {"series": "R1-Distill-7B", "step": 35, "value": 0.9741},
      {"series": "R1-Distill-7B", "step": 36, "value": 0.9732},
      {"series": "R1-Distill-7B", "step": 37, "value": 0.9750},
      {"series": "R1-Distill-7B", "step": 38, "value": 0.9770},
      {"series": "R1-Distill-7B", "step": 39, "value": 0.9741},
      {"series": "R1-Distill-7B", "step": 40, "value": 0.9725},
      {"series": "R1-Distill-7B", "step": 41, "value": 0.9768},
      {"series": "R1-Distill-7B", "step": 42, "value": 0.9759},
      {"series": "R1-Distill-7B", "step": 43, "value": 0.9750},
      {"series": "R1-Distill-7B", "step": 44, "value": 0.9769},
      {"series": "R1-Distill-7B", "step": 45, "value": 0.9752},
      {"series": "R1-Distill-7B", "step": 46, "value": 0.9778},
      {"series": "R1-Distill-7B", "step": 47, "value": 0.9779},
      {"series": "R1-Distill-7B", "step": 48, "value": 0.9758},
      {"series": "R1-Distill-7B", "step": 49, "value": 0.9769},
      {"series": "R1-Distill-7B", "step": 50, "value": 0.9787},
      {"series": "R1-Distill-7B", "step": 51, "value": 0.9776},
      {"series": "R1-Distill-7B", "step": 52, "value": 0.9776},
      {"series": "R1-Distill-7B", "step": 53, "value": 0.9790},
      {"series": "R1-Distill-7B", "step": 54, "value": 0.9805},
      {"series": "R1-Distill-7B", "step": 55, "value": 0.9774},
      {"series": "R1-Distill-7B", "step": 56, "value": 0.9788},
      {"series": "R1-Distill-7B", "step": 57, "value": 0.9771},
      {"series": "R1-Distill-7B", "step": 58, "value": 0.9773},
      {"series": "R1-Distill-7B", "step": 59, "value": 0.9782},
      {"series": "R1-Distill-7B", "step": 60, "value": 0.9797},
      {"series": "R1-Distill-7B", "step": 61, "value": 0.9779},
      {"series": "R1-Distill-7B", "step": 62, "value": 0.9794},
      {"series": "R1-Distill-7B", "step": 63, "value": 0.9791},
      {"series": "R1-Distill-7B", "step": 64, "value": 0.9783},
      {"series": "R1-Distill-7B", "step": 65, "value": 0.9788},
      {"series": "R1-Distill-7B", "step": 66, "value": 0.9786},
      {"series": "R1-Distill-7B", "step": 67, "value": 0.9795},
      {"series": "R1-Distill-7B", "step": 68, "value": 0.9778},
      {"series": "R1-Distill-7B", "step": 69, "value": 0.9790},
      {"series": "R1-Distill-7B", "step": 70, "value": 0.9810},
      {"series": "R1-Distill-7B", "step": 71, "value": 0.9781},
      {"series": "R1-Distill-7B", "step": 72, "value": 0.9787},
      {"series": "R1-Distill-7B", "step": 73, "value": 0.9785},
      {"series": "R1-Distill-7B", "step": 74, "value": 0.9792},
      {"series": "R1-Distill-7B", "step": 75, "value": 0.9765},
      {"series": "R1-Distill-7B", "step": 76, "value": 0.9779},
      {"series": "R1-Distill-7B", "step": 77, "value": 0.9799},
      {"series": "R1-Distill-7B", "step": 78, "value": 0.9778},
      {"series": "R1-Distill-7B", "step": 79, "value": 0.9784},
      {"series": "R1-Distill-7B", "step": 80, "value": 0.9780},
      {"series": "R1-Distill-7B", "step": 81, "value": 0.9791},
      {"series": "R1-Distill-7B", "step": 82, "value": 0.9763},
      {"series": "R1-Distill-7B", "step": 83, "value": 0.9796},
      {"series": "R1-Distill-7B", "step": 84, "value": 0.9779},
      {"series": "R1-Distill-7B", "step": 85, "value": 0.9768},
      {"series": "R1-Distill-7B", "step": 86, "value": 0.9767},
      {"series": "R1-Distill-7B", "step": 87, "value": 0.9732},
      {"series": "R1-Distill-7B", "step": 88, "value": 0.9727},
      {"series": "R1-Distill-7B", "step": 89, "value": 0.9803},
      {"series": "R1-Distill-7B", "step": 90, "value": 0.9791},
      {"series": "R1-Distill-7B", "step": 91, "value": 0.9801},
      {"series": "R1-Distill-7B", "step": 92, "value": 0.9800},
      {"series": "R1-Distill-7B", "step": 93, "value": 0.9789},
      {"series": "R1-Distill-7B", "step": 94, "value": 0.9804},
      {"series": "R1-Distill-7B", "step": 95, "value": 0.9809},
      {"series": "R1-Distill-7B", "step": 96, "value": 0.9807},
      {"series": "R1-Distill-7B", "step": 97, "value": 0.9784},
      {"series": "R1-Distill-7B", "step": 98, "value": 0.9788},
      {"series": "R1-Distill-7B", "step": 99, "value": 0.9812},
      {"series": "R1-Distill-7B", "step": 100, "value": 0.9783},
      {"series": "R1-Distill-7B", "step": 101, "value": 0.9824},
      {"series": "R1-Distill-7B", "step": 102, "value": 0.9819},
      {"series": "R1-Distill-7B", "step": 103, "value": 0.9822},
      {"series": "R1-Distill-7B", "step": 104, "value": 0.9829},
      {"series": "R1-Distill-7B", "step": 105, "value": 0.9813},
      {"series": "R1-Distill-7B", "step": 106, "value": 0.9810},
      {"series": "R1-Distill-7B", "step": 107, "value": 0.9828},
      {"series": "R1-Distill-7B", "step": 108, "value": 0.9832},
      {"series": "R1-Distill-7B", "step": 109, "value": 0.9840},
      {"series": "R1-Distill-7B", "step": 110, "value": 0.9828},
      {"series": "R1-Distill-7B", "step": 111, "value": 0.9835},
      {"series": "R1-Distill-7B", "step": 112, "value": 0.9806},
      {"series": "R1-Distill-7B", "step": 113, "value": 0.9769},
      {"series": "R1-Distill-7B", "step": 114, "value": 0.9770},
      {"series": "R1-Distill-7B", "step": 115, "value": 0.9785},
      {"series": "R1-Distill-7B", "step": 116, "value": 0.9767},
      {"series": "R1-Distill-7B", "step": 117, "value": 0.9761},
      {"series": "R1-Distill-7B", "step": 118, "value": 0.9757},
      {"series": "R1-Distill-7B", "step": 119, "value": 0.9797},
      {"series": "R1-Distill-7B", "step": 120, "value": 0.9786},
      {"series": "R1-Distill-7B", "step": 121, "value": 0.9768},
      {"series": "R1-Distill-7B", "step": 122, "value": 0.9773},
      {"series": "R1-Distill-7B", "step": 123, "value": 0.9741},
      {"series": "R1-Distill-7B", "step": 124, "value": 0.9739},
      {"series": "R1-Distill-7B", "step": 125, "value": 0.9797},
      {"series": "R1-Distill-7B", "step": 126, "value": 0.9793},
      {"series": "R1-Distill-7B", "step": 127, "value": 0.9752},
      {"series": "R1-Distill-7B", "step": 128, "value": 0.9773},
      {"series": "R1-Distill-7B", "step": 129, "value": 0.9786},
      {"series": "R1-Distill-7B", "step": 130, "value": 0.9777},
      {"series": "R1-Distill-7B", "step": 131, "value": 0.9782},
      {"series": "R1-Distill-7B", "step": 132, "value": 0.9761},
      {"series": "R1-Distill-7B", "step": 133, "value": 0.9791},
      {"series": "R1-Distill-7B", "step": 134, "value": 0.9776},
      {"series": "R1-Distill-7B", "step": 135, "value": 0.9791},
      {"series": "R1-Distill-7B", "step": 136, "value": 0.9788},
      {"series": "R1-Distill-7B", "step": 137, "value": 0.9811},
      {"series": "R1-Distill-7B", "step": 138, "value": 0.9807},
      {"series": "R1-Distill-7B", "step": 139, "value": 0.9803},
      {"series": "R1-Distill-7B", "step": 140, "value": 0.9806},
      {"series": "R1-Distill-7B", "step": 141, "value": 0.9796},
      {"series": "R1-Distill-7B", "step": 142, "value": 0.9797},
      {"series": "R1-Distill-7B", "step": 143, "value": 0.9806},
      {"series": "R1-Distill-7B", "step": 144, "value": 0.9791},
      {"series": "R1-Distill-7B", "step": 145, "value": 0.9790},
      {"series": "R1-Distill-7B", "step": 146, "value": 0.9814},
      {"series": "R1-Distill-7B", "step": 147, "value": 0.9813},
      {"series": "R1-Distill-7B", "step": 148, "value": 0.9805},
      {"series": "R1-Distill-7B", "step": 149, "value": 0.9808},
      {"series": "R1-Distill-7B", "step": 150, "value": 0.9780},
      {"series": "R1-Distill-7B", "step": 151, "value": 0.9817},
      {"series": "R1-Distill-7B", "step": 152, "value": 0.9811},
      {"series": "R1-Distill-7B", "step": 153, "value": 0.9797},
      {"series": "R1-Distill-7B", "step": 154, "value": 0.9789},
      {"series": "R1-Distill-7B", "step": 155, "value": 0.9800},
      {"series": "R1-Distill-7B", "step": 156, "value": 0.9811},
      {"series": "R1-Distill-7B", "step": 157, "value": 0.9796},
      {"series": "R1-Distill-7B", "step": 158, "value": 0.9799},
      {"series": "R1-Distill-7B", "step": 159, "value": 0.9802},
      {"series": "R1-Distill-7B", "step": 160, "value": 0.9791},
      {"series": "R1-Distill-7B", "step": 161, "value": 0.9777},
      {"series": "R1-Distill-7B", "step": 162, "value": 0.9799},
      {"series": "R1-Distill-7B", "step": 163, "value": 0.9799},
      {"series": "R1-Distill-7B", "step": 164, "value": 0.9783},
      {"series": "R1-Distill-7B", "step": 165, "value": 0.9813},
      {"series": "R1-Distill-7B", "step": 166, "value": 0.9805},
      {"series": "R1-Distill-7B", "step": 167, "value": 0.9801},
      {"series": "R1-Distill-7B", "step": 168, "value": 0.9809},
      {"series": "R1-Distill-7B", "step": 169, "value": 0.9811},
      {"series": "R1-Distill-7B", "step": 170, "value": 0.9796}
    ]
  },
  "hconcat": [
    {
      "title": {"text": "Student Overlap Mass"},
      "width": 1175,
      "height": 668,
      "data": {"name": "student"},
      "mark": {"type": "line", "strokeWidth": 5, "strokeJoin": "round"},
      "encoding": {
        "x": {
          "field": "step",
          "type": "quantitative",
          "scale": {"domain": [0, 170], "nice": false},
          "axis": {"title": "Training Step", "values": [0, 20, 40, 60, 80, 100, 120, 140, 160]}
        },
        "y": {
          "field": "value",
          "type": "quantitative",
          "scale": {"domain": [0.9649, 0.995], "nice": false, "zero": false},
          "axis": {"title": null, "values": [0.966, 0.972, 0.978, 0.984, 0.99], "format": ".3f"}
        },
        "color": {
          "field": "series",
          "type": "nominal",
          "scale": {"domain": ["JustRL-1.5B", "R1-Distill-7B"], "range": ["#1c5185", "#b02b45"]},
          "legend": {"labelExpr": "datum.label + ' as Teacher'"}
        }
      }
    },
    {
      "title": {"text": "Teacher Overlap Mass"},
      "width": 1175,
      "height": 668,
      "data": {"name": "teacher"},
      "mark": {"type": "line", "strokeWidth": 5, "strokeJoin": "round"},
      "encoding": {
        "x": {
          "field": "step",
          "type": "quantitative",
          "scale": {"domain": [0, 170], "nice": false},
          "axis": {"title": "Training Step", "values": [0, 20, 40, 60, 80, 100, 120, 140, 160]}
        },
        "y": {
          "field": "value",
          "type": "quantitative",
          "scale": {"domain": [0.9649, 0.995], "nice": false, "zero": false},
          "axis": {"title": null, "values": [0.966, 0.972, 0.978, 0.984, 0.99], "format": ".3f"}
        },
        "color": {
          "field": "series",
          "type": "nominal",
          "scale": {"domain": ["JustRL-1.5B", "R1-Distill-7B"], "range": ["#1c5185", "#b02b45"]},
          "legend": {"labelExpr": "datum.label + ' as Teacher'"}
        }
      }
    }
  ],
  "spacing": 33,
  "config": {
    "view": {"stroke": "#111111", "strokeWidth": 2.5},
    "axis": {
      "grid": true,
      "gridColor": {"condition": {"test": "datum.value === 0", "value": "transparent"}, "value": "#ebebeb"},
      "gridDash": [8, 6],
      "gridWidth": 1.5,
      "ticks": false,
      "domain": false,
      "labelFont": "Liberation Serif",
      "labelFontSize": 41,
      "labelColor": "#333333",
      "labelPadding": 12,
      "titleFont": "DejaVu Serif",
      "titleFontWeight": "bold",
      "titleFontSize": 36,
      "titleColor": "#333333",
      "titlePadding": 2
    },
    "title": {
      "font": "DejaVu Serif",
      "fontWeight": "bold",
      "fontSize": 45,
      "color": "#333333",
      "baseline": "alphabetic",
      "offset": 10
    },
    "legend": {
      "orient": "none",
      "legendX": 380,
      "legendY": -152,
      "direction": "horizontal",
      "title": null,
      "symbolType": "M-2,0H2",
      "symbolSize": 2756,
      "symbolStrokeWidth": 5,
      "symbolOffset": 25,
      "labelFont": "DejaVu Serif",
      "labelFontWeight": "bold",
      "labelFontSize": 45,
      "labelColor": "#333333",
      "labelLimit": 2000,
      "labelOffset": 48,
      "columnPadding": 111,
      "padding": 17,
      "fillColor": "white",
      "strokeColor": "#cccccc",
      "cornerRadius": 8
    }
  }
}
